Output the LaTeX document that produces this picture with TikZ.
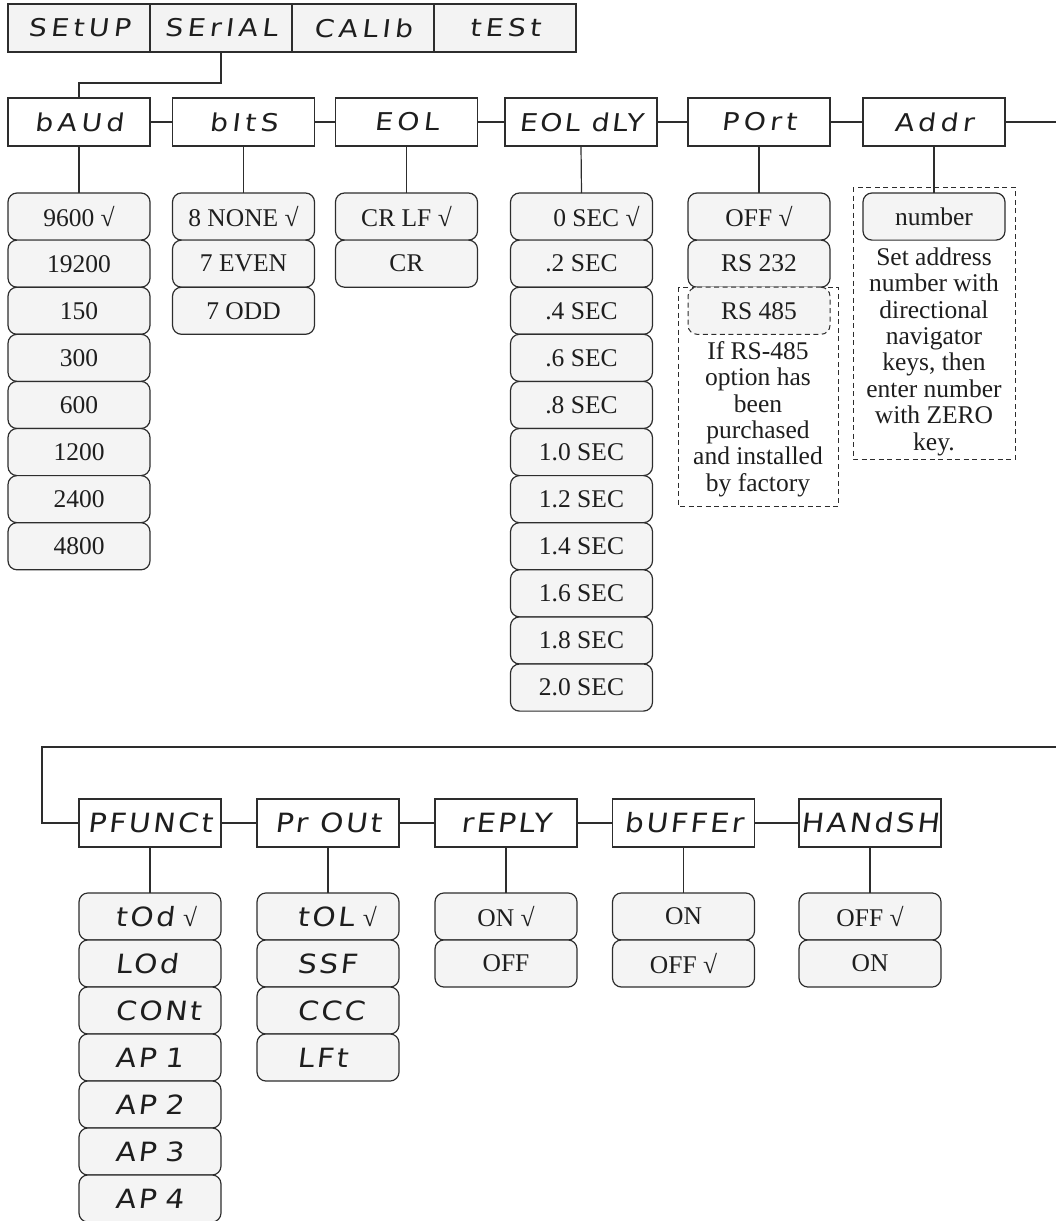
\documentclass[tikz,border=0pt]{standalone}
\usepackage{fontspec}
\setmainfont{Liberation Serif}
\newfontfamily\segfamA[FakeSlant=0.12,FakeStretch=1.15,LetterSpace=18]{DejaVu Sans}
\newfontfamily\segfamB[FakeSlant=0.12,FakeStretch=1.12,LetterSpace=10]{DejaVu Sans}
\newcommand\segA{\segfamA\fontsize{24.5}{26}\selectfont}
\newcommand\segB{\segfamB\fontsize{26.5}{30}\selectfont}
\newcommand\opt{\rmfamily\fontsize{25.5}{26.4}\selectfont}
\newcommand\chk{\hspace{9pt}{\opt √}}
\definecolor{linec}{RGB}{45,45,45}
\definecolor{menufill}{RGB}{243,243,243}
\definecolor{optfill}{RGB}{244,244,244}
\definecolor{textc}{RGB}{30,30,30}
\begin{document}
\begin{tikzpicture}[x=1pt,y=-1pt,
  menubox/.style={draw=linec, fill=menufill, line width=1.2pt, minimum width=142, minimum height=48, inner sep=0pt, outer sep=0pt, font=\segA, text=textc},
  rowbox/.style={draw=linec, fill=white, line width=1.2pt, minimum width=142, minimum height=48, inner sep=0pt, outer sep=0pt, text=textc},
  optbox/.style={draw=linec, fill=optfill, line width=1.2pt, rounded corners=9, minimum width=142, minimum height=47.1, inner sep=0pt, outer sep=0pt, font=\opt, text=textc},
  segopt/.style={optbox, font=\segB, text width=142, align=left},
  conn/.style={draw=linec, line width=1.2pt},
  dsh/.style={dash pattern=on 5pt off 3.5pt},
  notetext/.style={align=center, font=\opt, text=textc, inner sep=0pt}
]
\useasboundingbox (0,0) rectangle (1056,1221);

% top menu
\node[menubox] (setup)  at (79,28)  {SEtUP};
\node[menubox] (serial) at (221,28) {SErIAL};
\node[menubox] (calib)  at (363,28) {CALIb};
\node[menubox] (test)   at (505,28) {tESt};

% first row
\node[rowbox, font=\segA] (baud)   at (79,122)    {bAUd};
\node[rowbox, font=\segA] (bits)   at (243.5,122) {bItS};
\node[rowbox, font=\segA] (eol)    at (406.5,122) {EOL};
\node[rowbox, font=\segA, minimum width=152] (eoldly) at (581,122) {\addfontfeature{LetterSpace=10}EOL dLY};
\node[rowbox, font=\segA] (port)   at (759,122)   {POrt};
\node[rowbox, font=\segA] (addr)   at (934,122)   {Addr};
\coordinate (aout) at (1056,122);

\draw[conn] (serial.south) -- ++(0,31) -| (baud.north);
\draw[conn] (baud.east) -- (bits.west);
\draw[conn] (bits.east) -- (eol.west);
\draw[conn] (eol.east) -- (eoldly.west);
\draw[conn] (eoldly.east) -- (port.west);
\draw[conn] (port.east) -- (addr.west);
\draw[conn] (addr.east) -- (aout);

% options, first row
\foreach \lbl [count=\i] in {9600 √,19200,150,300,600,1200,2400,4800}
  \node[optbox] (baud\i) at (79,169.45+47.1*\i) {\lbl};
\foreach \lbl [count=\i] in {8 NONE √,7 EVEN,7 ODD}
  \node[optbox] (bits\i) at (243.5,169.45+47.1*\i) {\lbl};
\foreach \lbl [count=\i] in {CR LF √,CR}
  \node[optbox] (eol\i) at (406.5,169.45+47.1*\i) {\lbl};
\foreach \lbl [count=\i] in {\hspace{30pt}0 SEC √,.2 SEC,.4 SEC,.6 SEC,.8 SEC,1.0 SEC,1.2 SEC,1.4 SEC,1.6 SEC,1.8 SEC,2.0 SEC}
  \node[optbox] (dly\i) at (581.5,169.45+47.1*\i) {\lbl};
\foreach \lbl [count=\i] in {OFF √,RS 232}
  \node[optbox] (port\i) at (759,169.45+47.1*\i) {\lbl};

% dashed notes
\draw[conn, dsh, line width=1pt] (678,287) rectangle (838,506);
\draw[conn, dsh, line width=1pt] (853,187) rectangle (1015,459);
\node[optbox, dsh, line width=1pt] (port3) at (759,169.45+47.1*3) {RS 485};
\node[optbox] (num) at (934,216.55) {number};
\node[notetext] (portnote) at (758,419) {If RS-485\\option has\\been\\purchased\\and installed\\by factory};
\node[notetext] (addrnote) at (934,351.5) {Set address\\number with\\directional\\navigator\\keys, then\\enter number\\with ZERO\\key.};

\draw[conn] (baud.south) -- (baud1.north);
\draw[conn] (bits.south) -- (bits1.north);
\draw[conn] (eol.south) -- (eol1.north);
\draw[conn] (eoldly.south) -- (dly1.north);
\draw[conn] (port.south) -- (port1.north);
\draw[conn] (addr.south) -- (num.north);

% second row
\coordinate (rin) at (1056,747);
\node[rowbox, font=\segB] (pfunct) at (150,823)   {PFUNCt};
\node[rowbox, font=\segB] (prout)  at (328,823)   {Pr OUt};
\node[rowbox, font=\segB] (reply)  at (506,823)   {rEPLY};
\node[rowbox, font=\segB] (buffer) at (683.5,823) {bUFFEr};
\node[rowbox, font=\segB] (handsh) at (870,823)   {HANdSH};

\draw[conn] (rin) -- (42,747) |- (pfunct.west);
\draw[conn] (pfunct.east) -- (prout.west);
\draw[conn] (prout.east) -- (reply.west);
\draw[conn] (reply.east) -- (buffer.west);
\draw[conn] (buffer.east) -- (handsh.west);

\foreach \lbl [count=\i] in {tOd\chk,LOd,CONt,AP 1,AP 2,AP 3,AP 4}
  \node[segopt] (pf\i) at (150,869.5+47*\i) {\hspace*{36pt}\lbl};
\foreach \lbl [count=\i] in {tOL\chk,SSF,CCC,LFt}
  \node[segopt] (po\i) at (328,869.5+47*\i) {\hspace*{40pt}\lbl};
\foreach \lbl [count=\i] in {ON √,OFF}
  \node[optbox] (rp\i) at (506,869.5+47*\i) {\lbl};
\foreach \lbl [count=\i] in {ON,OFF √}
  \node[optbox] (bf\i) at (683.5,869.5+47*\i) {\lbl};
\foreach \lbl [count=\i] in {OFF √,ON}
  \node[optbox] (hs\i) at (870,869.5+47*\i) {\lbl};

\draw[conn] (pfunct.south) -- (pf1.north);
\draw[conn] (prout.south) -- (po1.north);
\draw[conn] (reply.south) -- (rp1.north);
\draw[conn] (buffer.south) -- (bf1.north);
\draw[conn] (handsh.south) -- (hs1.north);
\end{tikzpicture}
\end{document}
